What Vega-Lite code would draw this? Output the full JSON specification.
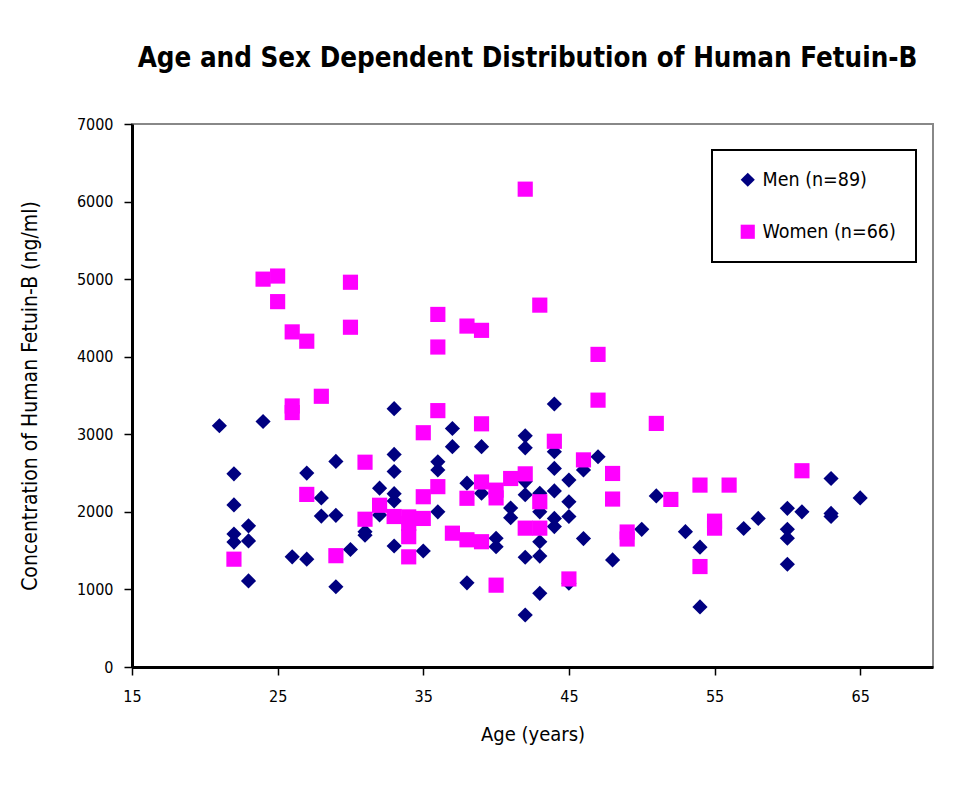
{
  "$schema": "https://vega.github.io/schema/vega-lite/v6.json",
  "autosize": "none",
  "width": 801,
  "height": 543,
  "padding": {"left": 132, "top": 124, "right": 31, "bottom": 129},
  "background": "white",
  "title": {
    "text": "Age and Sex Dependent Distribution of Human Fetuin-B",
    "font": "DejaVu Sans Condensed",
    "fontSize": 27.5,
    "fontWeight": "bold",
    "color": "black",
    "anchor": "middle",
    "dx": -5,
    "offset": 44
  },
  "config": {
    "view": {"stroke": "#888888", "strokeWidth": 2},
    "font": "DejaVu Sans Condensed",
    "axis": {
      "grid": false,
      "domainColor": "black",
      "domainWidth": 3,
      "tickColor": "black",
      "tickWidth": 1.5,
      "tickSize": 8,
      "labelFont": "DejaVu Sans Condensed",
      "labelFontSize": 16,
      "labelColor": "black",
      "labelFlush": false,
      "labelOverlap": false,
      "titleFont": "DejaVu Sans Condensed",
      "titleFontSize": 20,
      "titleFontWeight": "normal",
      "titleColor": "black"
    },
    "legend": {
      "strokeColor": "black",
      "strokeWidth": 2,
      "fillColor": "white",
      "padding": 20,
      "rowPadding": 31,
      "labelFont": "DejaVu Sans Condensed",
      "labelFontSize": 19.5,
      "labelColor": "black",
      "symbolSize": 200,
      "symbolStrokeWidth": 0,
      "symbolOffset": 6,
      "labelOffset": 5
    }
  },
  "data": {
    "values": [
      {"sex": "Men (n=89)", "age": 21, "conc": 3110},
      {"sex": "Men (n=89)", "age": 22, "conc": 2490},
      {"sex": "Men (n=89)", "age": 22, "conc": 2090},
      {"sex": "Men (n=89)", "age": 22, "conc": 1715},
      {"sex": "Men (n=89)", "age": 22, "conc": 1610},
      {"sex": "Men (n=89)", "age": 23, "conc": 1820},
      {"sex": "Men (n=89)", "age": 23, "conc": 1625},
      {"sex": "Men (n=89)", "age": 23, "conc": 1110},
      {"sex": "Men (n=89)", "age": 24, "conc": 3165},
      {"sex": "Men (n=89)", "age": 26, "conc": 1420},
      {"sex": "Men (n=89)", "age": 27, "conc": 2500},
      {"sex": "Men (n=89)", "age": 27, "conc": 1390},
      {"sex": "Men (n=89)", "age": 28, "conc": 2180},
      {"sex": "Men (n=89)", "age": 28, "conc": 1945},
      {"sex": "Men (n=89)", "age": 29, "conc": 2650},
      {"sex": "Men (n=89)", "age": 29, "conc": 1955},
      {"sex": "Men (n=89)", "age": 29, "conc": 1035},
      {"sex": "Men (n=89)", "age": 30, "conc": 1515},
      {"sex": "Men (n=89)", "age": 31, "conc": 1745},
      {"sex": "Men (n=89)", "age": 31, "conc": 1700},
      {"sex": "Men (n=89)", "age": 32, "conc": 2305},
      {"sex": "Men (n=89)", "age": 32, "conc": 1960},
      {"sex": "Men (n=89)", "age": 33, "conc": 3330},
      {"sex": "Men (n=89)", "age": 33, "conc": 2740},
      {"sex": "Men (n=89)", "age": 33, "conc": 2520},
      {"sex": "Men (n=89)", "age": 33, "conc": 2235},
      {"sex": "Men (n=89)", "age": 33, "conc": 2140},
      {"sex": "Men (n=89)", "age": 33, "conc": 1560},
      {"sex": "Men (n=89)", "age": 35, "conc": 1495},
      {"sex": "Men (n=89)", "age": 36, "conc": 2645},
      {"sex": "Men (n=89)", "age": 36, "conc": 2540},
      {"sex": "Men (n=89)", "age": 36, "conc": 2000},
      {"sex": "Men (n=89)", "age": 37, "conc": 3075},
      {"sex": "Men (n=89)", "age": 37, "conc": 2840},
      {"sex": "Men (n=89)", "age": 38, "conc": 2370},
      {"sex": "Men (n=89)", "age": 38, "conc": 1085},
      {"sex": "Men (n=89)", "age": 39, "conc": 2840},
      {"sex": "Men (n=89)", "age": 39, "conc": 2240},
      {"sex": "Men (n=89)", "age": 40, "conc": 1660},
      {"sex": "Men (n=89)", "age": 40, "conc": 1550},
      {"sex": "Men (n=89)", "age": 41, "conc": 2050},
      {"sex": "Men (n=89)", "age": 41, "conc": 1925},
      {"sex": "Men (n=89)", "age": 42, "conc": 2980},
      {"sex": "Men (n=89)", "age": 42, "conc": 2825},
      {"sex": "Men (n=89)", "age": 42, "conc": 2390},
      {"sex": "Men (n=89)", "age": 42, "conc": 2220},
      {"sex": "Men (n=89)", "age": 42, "conc": 1415},
      {"sex": "Men (n=89)", "age": 42, "conc": 670},
      {"sex": "Men (n=89)", "age": 43, "conc": 2240},
      {"sex": "Men (n=89)", "age": 43, "conc": 2000},
      {"sex": "Men (n=89)", "age": 43, "conc": 1615},
      {"sex": "Men (n=89)", "age": 43, "conc": 1430},
      {"sex": "Men (n=89)", "age": 43, "conc": 950},
      {"sex": "Men (n=89)", "age": 44, "conc": 3390},
      {"sex": "Men (n=89)", "age": 44, "conc": 2775},
      {"sex": "Men (n=89)", "age": 44, "conc": 2560},
      {"sex": "Men (n=89)", "age": 44, "conc": 2270},
      {"sex": "Men (n=89)", "age": 44, "conc": 1915},
      {"sex": "Men (n=89)", "age": 44, "conc": 1810},
      {"sex": "Men (n=89)", "age": 45, "conc": 2410},
      {"sex": "Men (n=89)", "age": 45, "conc": 2130},
      {"sex": "Men (n=89)", "age": 45, "conc": 1940},
      {"sex": "Men (n=89)", "age": 45, "conc": 1080},
      {"sex": "Men (n=89)", "age": 46, "conc": 2540},
      {"sex": "Men (n=89)", "age": 46, "conc": 1655},
      {"sex": "Men (n=89)", "age": 47, "conc": 2710},
      {"sex": "Men (n=89)", "age": 48, "conc": 1380},
      {"sex": "Men (n=89)", "age": 50, "conc": 1775},
      {"sex": "Men (n=89)", "age": 51, "conc": 2205},
      {"sex": "Men (n=89)", "age": 53, "conc": 1745},
      {"sex": "Men (n=89)", "age": 54, "conc": 1545},
      {"sex": "Men (n=89)", "age": 54, "conc": 775},
      {"sex": "Men (n=89)", "age": 57, "conc": 1785},
      {"sex": "Men (n=89)", "age": 58, "conc": 1915},
      {"sex": "Men (n=89)", "age": 60, "conc": 2045},
      {"sex": "Men (n=89)", "age": 60, "conc": 1775},
      {"sex": "Men (n=89)", "age": 60, "conc": 1660},
      {"sex": "Men (n=89)", "age": 60, "conc": 1325},
      {"sex": "Men (n=89)", "age": 61, "conc": 2000},
      {"sex": "Men (n=89)", "age": 63, "conc": 2430},
      {"sex": "Men (n=89)", "age": 63, "conc": 1980},
      {"sex": "Men (n=89)", "age": 63, "conc": 1940},
      {"sex": "Men (n=89)", "age": 65, "conc": 2180},
      {"sex": "Women (n=66)", "age": 22, "conc": 1390},
      {"sex": "Women (n=66)", "age": 24, "conc": 5000},
      {"sex": "Women (n=66)", "age": 25, "conc": 5040},
      {"sex": "Women (n=66)", "age": 25, "conc": 4710},
      {"sex": "Women (n=66)", "age": 26, "conc": 4320},
      {"sex": "Women (n=66)", "age": 26, "conc": 3365},
      {"sex": "Women (n=66)", "age": 26, "conc": 3280},
      {"sex": "Women (n=66)", "age": 27, "conc": 4200},
      {"sex": "Women (n=66)", "age": 27, "conc": 2225},
      {"sex": "Women (n=66)", "age": 28, "conc": 3490},
      {"sex": "Women (n=66)", "age": 29, "conc": 1435},
      {"sex": "Women (n=66)", "age": 30, "conc": 4960},
      {"sex": "Women (n=66)", "age": 30, "conc": 4380},
      {"sex": "Women (n=66)", "age": 31, "conc": 2640},
      {"sex": "Women (n=66)", "age": 31, "conc": 1905},
      {"sex": "Women (n=66)", "age": 32, "conc": 2085},
      {"sex": "Women (n=66)", "age": 33, "conc": 1940},
      {"sex": "Women (n=66)", "age": 34, "conc": 1935},
      {"sex": "Women (n=66)", "age": 34, "conc": 1850},
      {"sex": "Women (n=66)", "age": 34, "conc": 1680},
      {"sex": "Women (n=66)", "age": 34, "conc": 1420},
      {"sex": "Women (n=66)", "age": 35, "conc": 3020},
      {"sex": "Women (n=66)", "age": 35, "conc": 2195},
      {"sex": "Women (n=66)", "age": 35, "conc": 1915},
      {"sex": "Women (n=66)", "age": 36, "conc": 4545},
      {"sex": "Women (n=66)", "age": 36, "conc": 4125},
      {"sex": "Women (n=66)", "age": 36, "conc": 3305},
      {"sex": "Women (n=66)", "age": 36, "conc": 2325},
      {"sex": "Women (n=66)", "age": 37, "conc": 1725},
      {"sex": "Women (n=66)", "age": 38, "conc": 4395},
      {"sex": "Women (n=66)", "age": 38, "conc": 2175},
      {"sex": "Women (n=66)", "age": 38, "conc": 1640},
      {"sex": "Women (n=66)", "age": 39, "conc": 4340},
      {"sex": "Women (n=66)", "age": 39, "conc": 3135},
      {"sex": "Women (n=66)", "age": 39, "conc": 2385},
      {"sex": "Women (n=66)", "age": 39, "conc": 1615},
      {"sex": "Women (n=66)", "age": 40, "conc": 2280},
      {"sex": "Women (n=66)", "age": 40, "conc": 2180},
      {"sex": "Women (n=66)", "age": 40, "conc": 1055},
      {"sex": "Women (n=66)", "age": 41, "conc": 2430},
      {"sex": "Women (n=66)", "age": 42, "conc": 6160},
      {"sex": "Women (n=66)", "age": 42, "conc": 2490},
      {"sex": "Women (n=66)", "age": 42, "conc": 1790},
      {"sex": "Women (n=66)", "age": 43, "conc": 4665},
      {"sex": "Women (n=66)", "age": 43, "conc": 2130},
      {"sex": "Women (n=66)", "age": 43, "conc": 1790},
      {"sex": "Women (n=66)", "age": 44, "conc": 2910},
      {"sex": "Women (n=66)", "age": 45, "conc": 1135},
      {"sex": "Women (n=66)", "age": 46, "conc": 2670},
      {"sex": "Women (n=66)", "age": 47, "conc": 4030},
      {"sex": "Women (n=66)", "age": 47, "conc": 3440},
      {"sex": "Women (n=66)", "age": 48, "conc": 2495},
      {"sex": "Women (n=66)", "age": 48, "conc": 2165},
      {"sex": "Women (n=66)", "age": 49, "conc": 1740},
      {"sex": "Women (n=66)", "age": 49, "conc": 1650},
      {"sex": "Women (n=66)", "age": 51, "conc": 3140},
      {"sex": "Women (n=66)", "age": 52, "conc": 2160},
      {"sex": "Women (n=66)", "age": 54, "conc": 2345},
      {"sex": "Women (n=66)", "age": 54, "conc": 1295},
      {"sex": "Women (n=66)", "age": 55, "conc": 1880},
      {"sex": "Women (n=66)", "age": 55, "conc": 1790},
      {"sex": "Women (n=66)", "age": 56, "conc": 2345},
      {"sex": "Women (n=66)", "age": 61, "conc": 2530}
    ]
  },
  "mark": {"type": "point", "filled": true, "opacity": 1, "size": 230, "strokeWidth": 0},
  "encoding": {
    "x": {
      "field": "age",
      "type": "quantitative",
      "scale": {"domain": [15, 70], "nice": false, "zero": false},
      "axis": {"values": [15, 25, 35, 45, 55, 65], "format": "d", "title": "Age (years)", "labelPadding": 13, "titlePadding": 20}
    },
    "y": {
      "field": "conc",
      "type": "quantitative",
      "scale": {"domain": [0, 7000], "nice": false},
      "axis": {"values": [0, 1000, 2000, 3000, 4000, 5000, 6000, 7000], "format": "d", "title": "Concentration of Human  Fetuin-B (ng/ml)", "titleFontSize": 21, "labelPadding": 11, "titlePadding": 36}
    },
    "color": {
      "field": "sex",
      "type": "nominal",
      "scale": {"domain": ["Men (n=89)", "Women (n=66)"], "range": ["#000080", "#FF00FF"]},
      "legend": {"title": null, "orient": "none", "legendX": 580, "legendY": 26}
    },
    "shape": {
      "field": "sex",
      "type": "nominal",
      "scale": {"domain": ["Men (n=89)", "Women (n=66)"], "range": ["diamond", "square"]},
      "legend": {"title": null, "orient": "none", "legendX": 580, "legendY": 26}
    }
  }
}
